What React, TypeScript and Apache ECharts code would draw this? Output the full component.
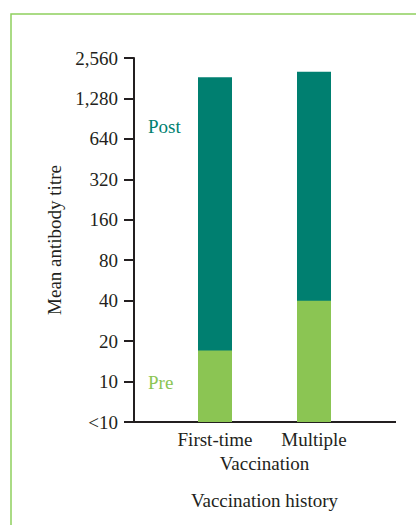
import React, { useEffect, useRef } from "react";
import * as echarts from "echarts";

const categories = ["First-time", "Multiple"];
const preTitre = [17, 40];
const postTitre = [1840, 2020];
const tickBase = 5; // the "<10" floor of the axis
const tickSteps = 9; // doublings from <10 up to 2,560

const FONT = "'Liberation Serif', 'DejaVu Serif', serif";
const INK = "#231f20";
const TEAL = "#007f70";
const GREEN = "#8bc553";

const toLevel = (v: number) => Math.log2(v / tickBase);

export default function App() {
  const ref = useRef<HTMLDivElement>(null);
  useEffect(() => {
    document.body.style.margin = "0";
    const chart = echarts.init(ref.current!, undefined, { renderer: "svg" });
    chart.setOption({
      animation: false,
      backgroundColor: "#ffffff",
      graphic: [
        {
          type: "rect",
          shape: { x: 11, y: 14, width: 600, height: 700 },
          style: { fill: "none", stroke: "#8fd05e", lineWidth: 1.5 },
          silent: true,
        },
        {
          type: "line",
          shape: { x1: 133, y1: 422, x2: 396, y2: 422 },
          style: { stroke: INK, lineWidth: 2 },
          silent: true,
        },
      ],
      legend: [
        {
          data: ["Post"],
          left: 143,
          top: 117,
          padding: 0,
          icon: "none",
          itemWidth: 0,
          selectedMode: false,
          textStyle: { color: TEAL, fontSize: 19, fontFamily: FONT, lineHeight: 19 },
        },
        {
          data: ["Pre"],
          left: 143,
          top: 373,
          padding: 0,
          icon: "none",
          itemWidth: 0,
          selectedMode: false,
          textStyle: { color: GREEN, fontSize: 19, fontFamily: FONT, lineHeight: 19 },
        },
      ],
      grid: { left: 165.5, right: 52.5, top: 58, bottom: 103 },
      xAxis: {
        type: "category",
        data: categories,
        axisLine: { show: false },
        axisTick: { show: false },
        axisLabel: { color: INK, fontSize: 19, fontFamily: FONT, margin: 8 },
        name: "Vaccination\n\nVaccination history",
        nameLocation: "middle",
        nameGap: 30,
        nameTextStyle: { color: INK, fontSize: 19, fontFamily: FONT, lineHeight: 18.5 },
      },
      yAxis: {
        type: "value",
        min: 0,
        max: tickSteps,
        interval: 1,
        offset: 31.5,
        axisLine: { show: true, lineStyle: { color: INK, width: 2 } },
        axisTick: { show: true, length: 10, lineStyle: { color: INK, width: 2 } },
        splitLine: { show: false },
        axisLabel: {
          color: INK,
          fontSize: 19,
          fontFamily: FONT,
          margin: 16,
          formatter: (k: number) =>
            k === 0 ? "<10" : (tickBase * Math.pow(2, k)).toLocaleString("en-US"),
        },
        name: "Mean antibody titre",
        nameLocation: "middle",
        nameGap: 70,
        nameTextStyle: { color: INK, fontSize: 19, fontFamily: FONT },
      },
      series: [
        {
          name: "Post",
          type: "bar",
          barWidth: 34,
          barGap: "-100%",
          itemStyle: { color: TEAL },
          data: postTitre.map(toLevel),
        },
        {
          name: "Pre",
          type: "bar",
          barWidth: 34,
          barGap: "-100%",
          itemStyle: { color: GREEN },
          data: preTitre.map(toLevel),
        },
      ],
    });
    return () => chart.dispose();
  }, []);
  return <div ref={ref} style={{ width: 416, height: 525 }} />;
}
